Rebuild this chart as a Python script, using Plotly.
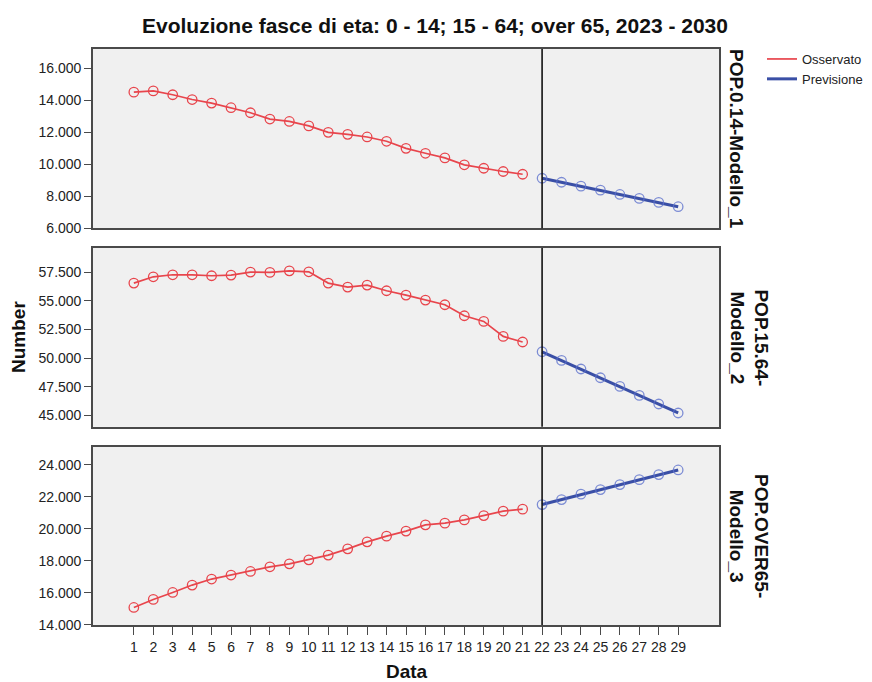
import plotly.graph_objects as go
from plotly.subplots import make_subplots

# ---------------- data ----------------
periods_obs = list(range(1, 22))
periods_fc = list(range(22, 30))
x_ticks = list(range(1, 30))

pop_0_14_obs = [14500, 14580, 14340, 14040, 13820, 13530, 13215, 12820, 12670, 12390,
                11990, 11865, 11700, 11430, 10990, 10680, 10390, 9960, 9745, 9540, 9370]
pop_0_14_fc = [9120, 8870, 8625, 8375, 8105, 7860, 7610, 7340]

pop_15_64_obs = [56540, 57090, 57265, 57265, 57180, 57240, 57500, 57470, 57610, 57525,
                 56540, 56190, 56365, 55870, 55495, 55060, 54650, 53690, 53195, 51890, 51400]
pop_15_64_fc = [50550, 49795, 49045, 48285, 47530, 46745, 45995, 45210]

pop_over65_obs = [15095, 15595, 16030, 16490, 16865, 17115, 17340, 17630, 17815, 18065,
                  18360, 18750, 19185, 19540, 19855, 20245, 20350, 20555, 20825, 21100, 21225]
pop_over65_fc = [21510, 21820, 22160, 22445, 22755, 23065, 23380, 23670]

panel_labels = ["POP.0.14-Modello_1", "POP.15.64-<br>Modello_2", "POP.OVER65-<br>Modello_3"]
y_ticks = [[6000, 8000, 10000, 12000, 14000, 16000],
           [45000, 47500, 50000, 52500, 55000, 57500],
           [14000, 16000, 18000, 20000, 22000, 24000]]
y_ranges = [[6000, 17200], [44000, 59600], [14000, 25100]]

series = [(pop_0_14_obs, pop_0_14_fc), (pop_15_64_obs, pop_15_64_fc), (pop_over65_obs, pop_over65_fc)]

RED = "#E8454C"
BLUE = "#3A4FA6"
BLUE_MK = "rgba(95,115,205,0.8)"
FONT = "Liberation Sans, Arial, sans-serif"

W, H = 864, 674
ML, MR, MT, MB = 85, 153, 41, 57

fig = make_subplots(rows=3, cols=1, shared_xaxes=True, vertical_spacing=0.035)

for i, (obs, fc) in enumerate(series):
    r = i + 1
    fig.add_trace(go.Scatter(x=periods_obs, y=obs, mode="lines+markers",
                             line=dict(color=RED, width=1.7),
                             marker=dict(symbol="circle-open", size=9.5, color=RED, line=dict(width=1.3)),
                             showlegend=False), row=r, col=1)
    fig.add_trace(go.Scatter(x=periods_fc, y=fc, mode="lines+markers",
                             line=dict(color=BLUE, width=3),
                             marker=dict(symbol="circle-open", size=9.5, color=BLUE_MK, line=dict(width=1.3)),
                             showlegend=False), row=r, col=1)

# legend-only entries
fig.add_trace(go.Scatter(x=[None], y=[None], mode="lines", name="Osservato",
                         line=dict(color=RED, width=1.7)), row=1, col=1)
fig.add_trace(go.Scatter(x=[None], y=[None], mode="lines", name="Previsione",
                         line=dict(color=BLUE, width=3)), row=1, col=1)

domains = [[0.689, 1.0], [0.344, 0.6545], [0.0, 0.309]]
axis_common = dict(showline=True, mirror=True, linecolor="#4a4a4a", linewidth=1.6,
                   showgrid=False, zeroline=False)

for i in range(3):
    r = i + 1
    fig.update_yaxes(row=r, col=1, domain=domains[i], range=y_ranges[i],
                     tickvals=y_ticks[i], tickformat=",d", ticks="outside", ticklen=7,
                     tickcolor="#4a4a4a", tickwidth=1.3,
                     tickfont=dict(size=14, color="#222222", family=FONT), **axis_common)
    fig.update_xaxes(row=r, col=1, range=[-1.1, 31.1], **axis_common)
    fig.add_shape(type="line", x0=22, x1=22, y0=0, y1=1,
                  xref=f"x{'' if r == 1 else r}", yref=f"y{'' if r == 1 else r} domain",
                  line=dict(color="#111111", width=1.6))
    ymid = sum(domains[i]) / 2
    fig.add_annotation(text=f"<b>{panel_labels[i]}</b>", x=1, xref="paper", y=ymid, yref="paper",
                       xanchor="left", yanchor="middle", xshift=5, textangle=90, showarrow=False,
                       align="center", font=dict(size=19, color="#111111", family=FONT))

fig.update_xaxes(row=3, col=1, tickvals=x_ticks, ticks="outside", ticklen=8,
                 tickcolor="#4a4a4a", tickwidth=1.3,
                 tickfont=dict(size=14, color="#222222", family=FONT))

fig.add_annotation(text="<b>Number</b>", x=0, xref="paper", y=0.5, yref="paper",
                   xanchor="center", yanchor="middle", xshift=-75, textangle=-90,
                   showarrow=False, font=dict(size=19, color="#111111", family=FONT))
fig.add_annotation(text="<b>Data</b>", x=(399 - ML) / (W - ML - MR), xref="paper", y=0, yref="paper",
                   xanchor="center", yanchor="middle", yshift=-46,
                   showarrow=False, font=dict(size=19, color="#111111", family=FONT))

fig.update_layout(
    width=W, height=H,
    margin=dict(l=ML, r=MR, t=MT, b=MB, autoexpand=False),
    paper_bgcolor="white", plot_bgcolor="#F0F0F0",
    separators=",.",
    title=dict(text="<b>Evoluzione fasce di eta: 0 - 14; 15 - 64; over 65, 2023 - 2030</b>",
               x=427 / W, xanchor="center", y=1 - 18 / H, yanchor="middle",
               font=dict(size=21, color="#111111", family=FONT)),
    legend=dict(x=(754 - ML) / (W - ML - MR), xanchor="left", y=1.0 + 5 / 576, yanchor="top",
                bgcolor="rgba(0,0,0,0)",
                font=dict(size=13, color="#222222", family=FONT), itemwidth=30,
                tracegroupgap=0),
    font=dict(family=FONT),
)

fig.write_html("out.html")
